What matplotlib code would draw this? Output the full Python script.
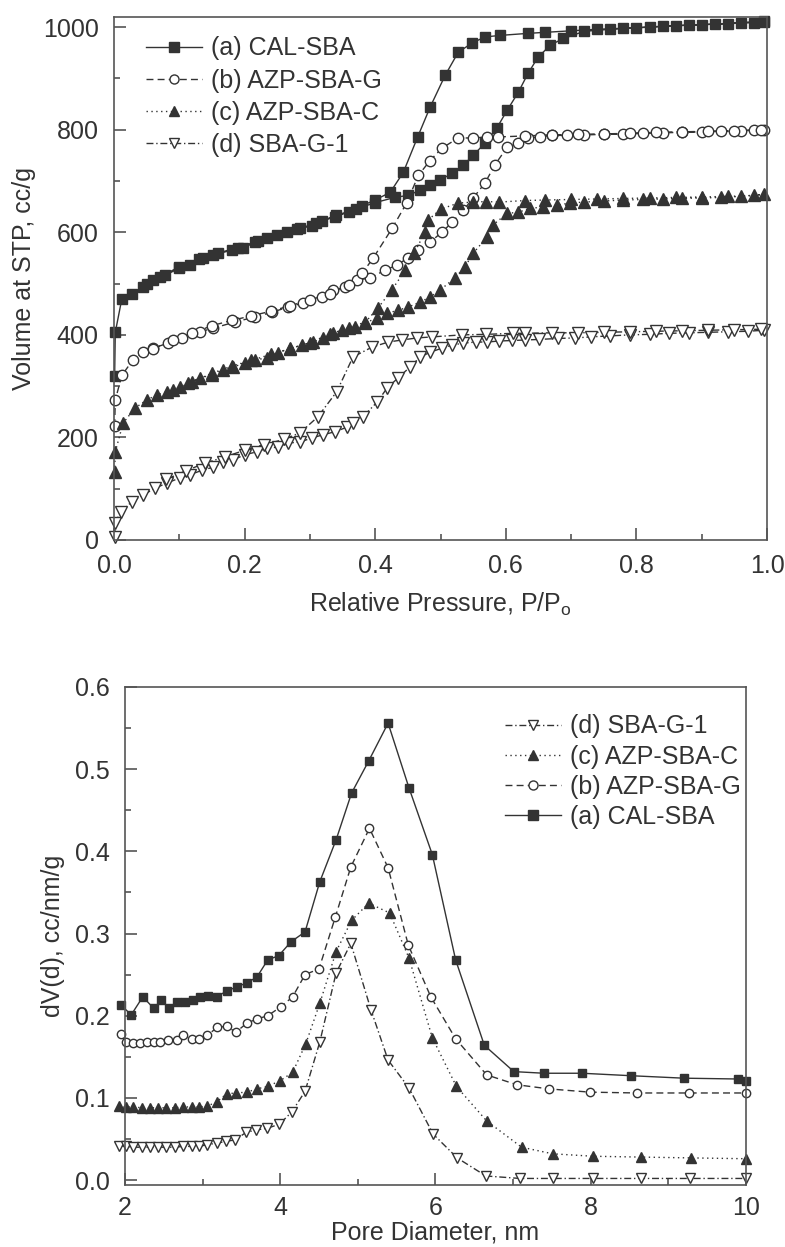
import matplotlib
matplotlib.use('Agg')
import matplotlib.pyplot as plt
from matplotlib.ticker import MultipleLocator

plt.rcParams['font.family'] = ['Liberation Sans', 'DejaVu Sans']
INK = '#333333'

# ---- isotherms (top panel) ----
cal_ads_p = [0.001, 0.002, 0.012, 0.027, 0.045, 0.06, 0.078, 0.10, 0.116, 0.137, 0.152, 0.18, 0.198,
             0.216, 0.234, 0.265, 0.285, 0.303, 0.318, 0.338, 0.36, 0.38, 0.40, 0.423, 0.443, 0.465,
             0.484, 0.507, 0.527, 0.548, 0.568, 0.591, 0.634, 0.66, 0.70, 0.74, 0.78, 0.82, 0.86,
             0.90, 0.94, 0.98, 0.995]
cal_ads_v = [320, 405, 470, 480, 493, 507, 516, 530, 536, 550, 556, 565, 569,
             581, 588, 600, 608, 612, 622, 630, 640, 652, 663, 678, 717, 786,
             844, 906, 951, 969, 981, 984, 988, 990, 993, 996, 998, 1000, 1003,
             1005, 1007, 1009, 1010]
cal_des_p = [0.995, 0.96, 0.92, 0.88, 0.84, 0.80, 0.76, 0.72, 0.688, 0.668, 0.649, 0.634, 0.619,
             0.602, 0.586, 0.568, 0.55, 0.535, 0.518, 0.499, 0.484, 0.469, 0.45, 0.43, 0.40,
             0.37, 0.34, 0.31, 0.28, 0.25, 0.22, 0.19, 0.16, 0.13, 0.10, 0.07, 0.05]
cal_des_v = [1012, 1009, 1006, 1004, 1002, 999, 996, 992, 978, 965, 941, 910, 873,
             838, 803, 774, 750, 731, 715, 702, 692, 682, 672, 668, 658,
             645, 633, 618, 606, 594, 583, 570, 560, 547, 533, 512, 500]

azg_ads_p = [0.001, 0.002, 0.012, 0.029, 0.045, 0.06, 0.083, 0.104, 0.132, 0.152, 0.185, 0.216,
             0.242, 0.266, 0.29, 0.318, 0.336, 0.354, 0.372, 0.392, 0.415, 0.433, 0.45, 0.466,
             0.484, 0.502, 0.518, 0.535, 0.55, 0.568, 0.583, 0.602, 0.619, 0.634, 0.652, 0.67,
             0.694, 0.72, 0.75, 0.78, 0.81, 0.84, 0.87, 0.90, 0.93, 0.96, 0.98, 0.995]
azg_ads_v = [222, 273, 321, 351, 366, 374, 384, 394, 406, 413, 425, 435,
             444, 454, 462, 474, 487, 493, 507, 511, 526, 536, 550, 565,
             581, 600, 620, 643, 667, 696, 731, 766, 774, 784, 786, 789,
             789, 790, 791, 792, 793, 794, 795, 796, 797, 798, 799, 800]
azg_des_p = [0.99, 0.95, 0.91, 0.87, 0.83, 0.79, 0.75, 0.71, 0.67, 0.63, 0.588, 0.571, 0.55,
             0.527, 0.502, 0.484, 0.466, 0.448, 0.426, 0.397, 0.38, 0.36, 0.33, 0.30, 0.27,
             0.24, 0.21, 0.18, 0.15, 0.12, 0.09, 0.06]
azg_des_v = [800, 798, 797, 796, 795, 793, 792, 791, 790, 788, 786, 786, 784,
             784, 764, 740, 711, 657, 608, 550, 520, 497, 480, 468, 457,
             446, 437, 428, 418, 403, 390, 372]

azc_ads_p = [0.001, 0.002, 0.014, 0.032, 0.05, 0.066, 0.081, 0.101, 0.113, 0.132, 0.15, 0.167,
             0.182, 0.2, 0.216, 0.234, 0.251, 0.27, 0.288, 0.305, 0.32, 0.335, 0.349, 0.369,
             0.384, 0.403, 0.418, 0.435, 0.45, 0.469, 0.484, 0.499, 0.522, 0.537, 0.55, 0.571,
             0.58, 0.602, 0.619, 0.637, 0.657, 0.678, 0.698, 0.72, 0.75, 0.78, 0.81, 0.84,
             0.87, 0.90, 0.93, 0.96, 0.995]
azc_ads_v = [133, 172, 228, 257, 273, 283, 289, 298, 306, 316, 322, 331,
             337, 345, 351, 355, 365, 374, 380, 386, 394, 403, 409, 415,
             423, 433, 442, 448, 454, 464, 474, 487, 511, 532, 559, 591,
             614, 637, 639, 647, 649, 653, 657, 659, 661, 663, 664, 665,
             666, 667, 668, 670, 674]
azc_des_p = [0.98, 0.94, 0.90, 0.86, 0.82, 0.78, 0.74, 0.70, 0.66, 0.63, 0.59, 0.57, 0.55,
             0.527, 0.50, 0.481, 0.476, 0.46, 0.446, 0.425, 0.404, 0.385, 0.36, 0.33, 0.30,
             0.27, 0.24, 0.21, 0.18, 0.15, 0.12, 0.09]
azc_des_v = [672, 670, 669, 668, 667, 666, 665, 664, 663, 662, 659, 660, 659,
             657, 645, 624, 600, 560, 526, 487, 452, 425, 414, 401, 385,
             373, 362, 350, 339, 325, 309, 292]

sbg_ads_p = [0.001, 0.002, 0.01, 0.027, 0.045, 0.063, 0.081, 0.101, 0.116, 0.135, 0.152, 0.167,
             0.182, 0.2, 0.219, 0.234, 0.251, 0.266, 0.285, 0.303, 0.32, 0.338, 0.357, 0.366,
             0.381, 0.403, 0.418, 0.435, 0.453, 0.469, 0.484, 0.502, 0.518, 0.535, 0.555, 0.571,
             0.59, 0.61, 0.63, 0.65, 0.68, 0.706, 0.73, 0.76, 0.79, 0.82, 0.85, 0.88, 0.91,
             0.94, 0.97, 0.995]
sbg_ads_v = [6, 33, 55, 74, 88, 101, 111, 121, 127, 136, 142, 152,
             156, 166, 172, 179, 181, 189, 191, 199, 205, 211, 220, 228,
             240, 269, 296, 316, 337, 357, 366, 374, 380, 384, 386, 386,
             388, 389, 390, 391, 393, 394, 396, 398, 400, 401, 403, 404, 405,
             406, 407, 409]
sbg_des_p = [0.99, 0.95, 0.91, 0.87, 0.83, 0.79, 0.75, 0.71, 0.67, 0.63, 0.611, 0.57, 0.533,
             0.487, 0.464, 0.441, 0.42, 0.395, 0.366, 0.341, 0.312, 0.285, 0.26, 0.23, 0.20,
             0.17, 0.14, 0.11, 0.08]
sbg_des_v = [411, 410, 409, 408, 407, 406, 405, 404, 404, 403, 403, 401, 400,
             396, 394, 390, 386, 376, 357, 289, 240, 209, 196, 186, 175,
             162, 150, 135, 118]

# ---- pore size distributions (bottom panel) ----
cal_d = [1.95, 2.08, 2.23, 2.37, 2.47, 2.57, 2.67, 2.77, 2.88, 2.97, 3.07, 3.18, 3.31, 3.44,
         3.57, 3.70, 3.84, 3.98, 4.14, 4.32, 4.51, 4.72, 4.92, 5.14, 5.39, 5.66, 5.96, 6.26,
         6.63, 7.01, 7.40, 7.89, 8.52, 9.20, 9.90, 10.0]
cal_dv = [0.213, 0.201, 0.223, 0.209, 0.219, 0.209, 0.217, 0.217, 0.219, 0.223, 0.224, 0.223,
          0.230, 0.235, 0.240, 0.247, 0.268, 0.273, 0.290, 0.302, 0.363, 0.414, 0.471, 0.510,
          0.556, 0.477, 0.396, 0.268, 0.164, 0.132, 0.130, 0.130, 0.127, 0.124, 0.123, 0.121]

azg_d = [1.95, 2.01, 2.10, 2.19, 2.28, 2.37, 2.45, 2.56, 2.67, 2.75, 2.86, 2.96, 3.06, 3.19,
         3.31, 3.43, 3.57, 3.70, 3.84, 4.01, 4.16, 4.32, 4.50, 4.71, 4.91, 5.15, 5.39, 5.65,
         5.94, 6.26, 6.66, 7.05, 7.46, 7.99, 8.60, 9.27, 10.0]
azg_dv = [0.178, 0.168, 0.167, 0.167, 0.168, 0.168, 0.168, 0.170, 0.170, 0.176, 0.172, 0.172,
          0.176, 0.186, 0.187, 0.180, 0.191, 0.196, 0.200, 0.211, 0.223, 0.250, 0.257, 0.320,
          0.381, 0.428, 0.380, 0.286, 0.223, 0.172, 0.128, 0.116, 0.111, 0.107, 0.106, 0.106,
          0.106]

azc_d = [1.92, 2.01, 2.10, 2.22, 2.32, 2.43, 2.53, 2.64, 2.75, 2.86, 2.95, 3.06, 3.18, 3.31,
         3.43, 3.57, 3.70, 3.84, 4.00, 4.16, 4.33, 4.51, 4.72, 4.92, 5.14, 5.41, 5.66, 5.96,
         6.27, 6.66, 7.11, 7.51, 8.03, 8.65, 9.29, 10.0]
azc_dv = [0.090, 0.089, 0.089, 0.088, 0.088, 0.088, 0.088, 0.088, 0.089, 0.089, 0.089, 0.090,
          0.095, 0.105, 0.106, 0.107, 0.111, 0.114, 0.121, 0.131, 0.166, 0.215, 0.278, 0.316,
          0.337, 0.325, 0.270, 0.173, 0.114, 0.072, 0.040, 0.032, 0.029, 0.028, 0.027, 0.026]

sbg_d = [1.92, 2.01, 2.10, 2.22, 2.32, 2.43, 2.53, 2.64, 2.75, 2.86, 2.95, 3.06, 3.18, 3.30,
         3.42, 3.56, 3.69, 3.83, 3.99, 4.15, 4.32, 4.51, 4.72, 4.91, 5.17, 5.39, 5.66, 5.97,
         6.28, 6.65, 7.09, 7.51, 8.03, 8.65, 9.28, 10.0]
sbg_dv = [0.042, 0.041, 0.040, 0.040, 0.040, 0.040, 0.040, 0.040, 0.041, 0.041, 0.041, 0.043,
          0.045, 0.047, 0.049, 0.058, 0.061, 0.063, 0.068, 0.083, 0.108, 0.168, 0.252, 0.288,
          0.207, 0.146, 0.112, 0.056, 0.027, 0.005, 0.002, 0.002, 0.002, 0.002, 0.002, 0.002]

styles = {
    'a': dict(ls='-', marker='s', mfc=INK),
    'b': dict(ls=(0, (5, 3)), marker='o', mfc='white'),
    'c': dict(ls=(0, (1, 2.5)), marker='^', mfc=INK),
    'd': dict(ls=(0, (5, 2, 1, 2)), marker='v', mfc='white'),
}
top_ms = {'a': 7.2, 'b': 7.5, 'c': 8.5, 'd': 8.5}
bot_ms = {'a': 6.0, 'b': 6.0, 'c': 7.2, 'd': 7.2}
labels = {'a': '(a) CAL-SBA', 'b': '(b) AZP-SBA-G', 'c': '(c) AZP-SBA-C', 'd': '(d) SBA-G-1'}
FS = 18


def style_axes(ax, xpad):
    for sp in ax.spines.values():
        sp.set_color('#555555')
        sp.set_linewidth(1.2)
    ax.tick_params(which='both', direction='in', top=False, right=False,
                   colors='#555555', labelcolor=INK, labelsize=FS, width=1.2)
    ax.tick_params(axis='x', pad=xpad)
    ax.tick_params(axis='y', pad=11)
    ax.tick_params(which='major', length=8.5)
    ax.tick_params(which='minor', length=4.5)


fig = plt.figure(figsize=(7.85, 12.47), dpi=100)

# top: isotherms
ax1 = fig.add_axes([0.1452, 0.5670, 0.832, 0.4194])
iso = {
    'a': (cal_ads_p + cal_des_p, cal_ads_v + cal_des_v),
    'b': (azg_ads_p + azg_des_p, azg_ads_v + azg_des_v),
    'c': (azc_ads_p + azc_des_p, azc_ads_v + azc_des_v),
    'd': (sbg_ads_p + sbg_des_p, sbg_ads_v + sbg_des_v),
}
for key in ['a', 'b', 'c', 'd']:
    p, v = iso[key]
    ax1.plot(p, v, color=INK, lw=1.0, mec=INK, mew=1.0, ms=top_ms[key], label=labels[key],
             clip_on=False, **styles[key])
ax1.set_xlim(0, 1.0)
ax1.set_ylim(0, 1020)
ax1.xaxis.set_major_locator(MultipleLocator(0.2))
ax1.xaxis.set_minor_locator(MultipleLocator(0.1))
ax1.yaxis.set_major_locator(MultipleLocator(200))
ax1.yaxis.set_minor_locator(MultipleLocator(100))
ax1.xaxis.set_major_formatter(plt.FuncFormatter(lambda x, _: f'{x:.1f}'))
style_axes(ax1, 10)
ax1.set_xlabel('Relative Pressure, P/P$_\\mathregular{o}$', fontsize=FS, color=INK, labelpad=9)
ax1.set_ylabel('Volume at STP, cc/g', fontsize=FS, color=INK, labelpad=5)
leg1 = ax1.legend(loc='upper left', bbox_to_anchor=(0.014, 1.006), frameon=False, fontsize=FS,
                  handlelength=2.25, handletextpad=0.35, labelspacing=0.33, labelcolor=INK)
for h in leg1.legend_handles:
    h.set_markersize(6.5)

# bottom: pore size distribution
ax2 = fig.add_axes([0.1592, 0.0497, 0.791, 0.3994])
psd = {
    'a': (cal_d, cal_dv),
    'b': (azg_d, azg_dv),
    'c': (azc_d, azc_dv),
    'd': (sbg_d, sbg_dv),
}
for key in ['d', 'c', 'b', 'a']:
    d, dv = psd[key]
    ax2.plot(d, dv, color=INK, lw=1.0, mec=INK, mew=1.0, ms=bot_ms[key], label=labels[key],
             clip_on=False, **styles[key])
ax2.set_xlim(2, 10)
ax2.set_ylim(-0.006, 0.6)
ax2.xaxis.set_major_locator(MultipleLocator(2))
ax2.xaxis.set_minor_locator(MultipleLocator(1))
ax2.yaxis.set_major_locator(MultipleLocator(0.1))
ax2.yaxis.set_minor_locator(MultipleLocator(0.05))
ax2.yaxis.set_major_formatter(plt.FuncFormatter(lambda y, _: f'{y:.1f}'))
style_axes(ax2, 8)
ax2.set_xlabel('Pore Diameter, nm', fontsize=FS, color=INK, labelpad=0)
ax2.set_ylabel('dV(d), cc/nm/g', fontsize=FS, color=INK, labelpad=7)
leg2 = ax2.legend(loc='upper left', bbox_to_anchor=(0.575, 0.99), frameon=False, fontsize=FS,
                  handlelength=2.25, handletextpad=0.35, labelspacing=0.25, labelcolor=INK)
for h in leg2.legend_handles:
    h.set_markersize(6.5)

fig.savefig('out.png', dpi=100)
